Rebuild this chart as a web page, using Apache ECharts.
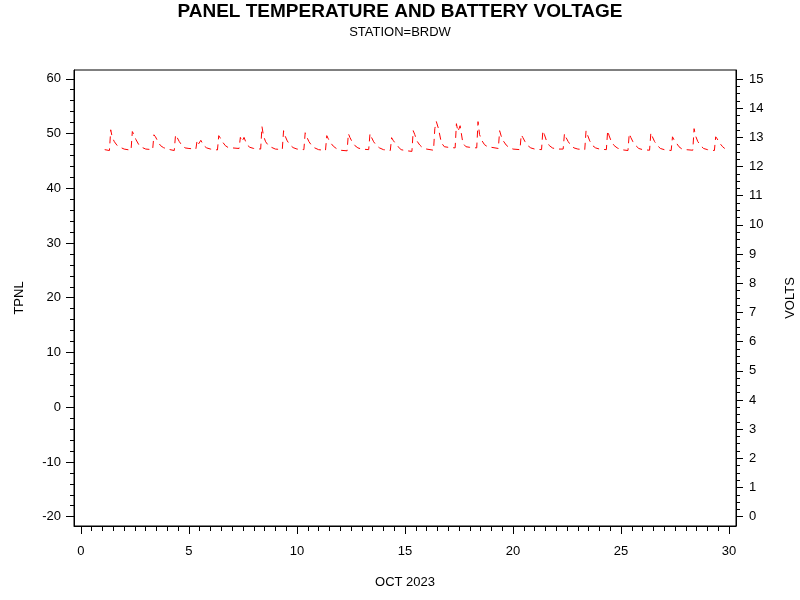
<!DOCTYPE html>
<html>
<head>
    <meta charset="utf-8">
    <title>panel temperature and battery voltage</title>
    <script src="https://cdn.jsdelivr.net/npm/echarts@6/dist/echarts.min.js"></script>
</head>
<body style="margin:0">
    <div id="chart" style="width: 800px;height:600px;"></div>
    <script type="text/javascript">
        // day of month (OCT 2023) and battery voltage
        var days = [
            1.10, 1.32, 1.38, 1.45, 1.55, 1.68, 1.82,
            2.00, 2.32, 2.38, 2.45, 2.55, 2.68, 2.82,
            3.00, 3.32, 3.38, 3.45, 3.55, 3.68, 3.82,
            4.00, 4.32, 4.38, 4.45, 4.55, 4.68, 4.82,
            5.00, 5.32, 5.38, 5.45, 5.55, 5.68, 5.82,
            6.00, 6.32, 6.38, 6.45, 6.55, 6.68, 6.82,
            7.00, 7.32, 7.38, 7.45, 7.55, 7.68, 7.82,
            8.00, 8.32, 8.38, 8.45, 8.55, 8.68, 8.82,
            9.00, 9.32, 9.38, 9.45, 9.55, 9.68, 9.82,
            10.00, 10.32, 10.38, 10.45, 10.55, 10.68, 10.82,
            11.00, 11.32, 11.38, 11.45, 11.55, 11.68, 11.82,
            12.00, 12.32, 12.38, 12.45, 12.55, 12.68, 12.82,
            13.00, 13.32, 13.38, 13.45, 13.55, 13.68, 13.82,
            14.00, 14.32, 14.38, 14.45, 14.55, 14.68, 14.82,
            15.00, 15.32, 15.38, 15.45, 15.55, 15.68, 15.82,
            16.00, 16.32, 16.38, 16.45, 16.55, 16.68, 16.82,
            17.00, 17.32, 17.38, 17.45, 17.55, 17.68, 17.82,
            18.00, 18.32, 18.38, 18.45, 18.55, 18.68, 18.82,
            19.00, 19.32, 19.38, 19.45, 19.55, 19.68, 19.82,
            20.00, 20.32, 20.38, 20.45, 20.55, 20.68, 20.82,
            21.00, 21.32, 21.38, 21.45, 21.55, 21.68, 21.82,
            22.00, 22.32, 22.38, 22.45, 22.55, 22.68, 22.82,
            23.00, 23.32, 23.38, 23.45, 23.55, 23.68, 23.82,
            24.00, 24.32, 24.38, 24.45, 24.55, 24.68, 24.82,
            25.00, 25.32, 25.38, 25.45, 25.55, 25.68, 25.82,
            26.00, 26.32, 26.38, 26.45, 26.55, 26.68, 26.82,
            27.00, 27.32, 27.38, 27.45, 27.55, 27.68, 27.82,
            28.00, 28.32, 28.38, 28.45, 28.55, 28.68, 28.82,
            29.00, 29.32, 29.38, 29.45, 29.55, 29.70, 29.80
        ];
        var volts = [
            12.58, 12.55, 13.26, 13.00, 12.85, 12.72, 12.66,
            12.60, 12.56, 13.20, 13.10, 12.92, 12.75, 12.66,
            12.60, 12.58, 13.09, 13.02, 12.88, 12.72, 12.65,
            12.60, 12.55, 13.09, 13.00, 12.86, 12.72, 12.64,
            12.62, 12.60, 12.90, 12.78, 12.90, 12.72, 12.64,
            12.60, 12.57, 13.06, 12.98, 12.85, 12.72, 12.65,
            12.64, 12.62, 13.00, 12.85, 13.00, 12.75, 12.66,
            12.62, 12.60, 13.37, 13.05, 12.85, 12.72, 12.66,
            12.60, 12.58, 13.23, 13.05, 12.88, 12.74, 12.65,
            12.60, 12.58, 13.16, 13.02, 12.86, 12.72, 12.64,
            12.58, 12.55, 13.06, 12.95, 12.82, 12.70, 12.62,
            12.56, 12.54, 13.13, 13.00, 12.85, 12.72, 12.64,
            12.60, 12.58, 13.13, 13.00, 12.85, 12.72, 12.64,
            12.58, 12.55, 12.99, 12.90, 12.80, 12.68, 12.58,
            12.55, 12.52, 13.23, 13.10, 12.88, 12.74, 12.64,
            12.60, 12.56, 13.30, 13.54, 13.30, 12.82, 12.68,
            12.66, 12.64, 13.47, 13.20, 13.40, 12.80, 12.68,
            12.66, 12.64, 13.54, 13.10, 12.90, 12.75, 12.68,
            12.66, 12.62, 13.23, 13.05, 12.88, 12.74, 12.65,
            12.60, 12.58, 13.09, 13.00, 12.86, 12.72, 12.64,
            12.60, 12.58, 13.23, 13.10, 12.88, 12.72, 12.64,
            12.60, 12.60, 13.13, 13.00, 12.86, 12.72, 12.64,
            12.60, 12.58, 13.23, 13.08, 12.88, 12.72, 12.64,
            12.60, 12.58, 13.23, 13.05, 12.86, 12.72, 12.64,
            12.58, 12.55, 13.13, 13.00, 12.85, 12.72, 12.62,
            12.58, 12.56, 13.16, 13.02, 12.86, 12.72, 12.62,
            12.58, 12.55, 13.02, 12.92, 12.82, 12.68, 12.60,
            12.58, 12.56, 13.30, 13.05, 12.86, 12.72, 12.62,
            12.58, 12.55, 13.02, 12.95, 12.82, 12.68, 12.62
        ];
        var dayTicks = [0, 5, 10, 15, 20, 25, 30];
        var tpnlTicks = [-20, -10, 0, 10, 20, 30, 40, 50, 60];
        var voltTicks = [0, 1, 2, 3, 4, 5, 6, 7, 8, 9, 10, 11, 12, 13, 14, 15];

        // minor tick positions
        var dayMinor = [], tpnlMinor = [], voltMinor = [];
        for (var i = 0; i <= 60; i++) dayMinor.push(i * 0.5);
        for (var i = -10; i <= 30; i++) tpnlMinor.push(i * 2);
        for (var i = 0; i <= 60; i++) voltMinor.push(i * 0.25);

        var font = 'Liberation Sans';
        var points = [];
        for (var i = 0; i < days.length; i++) points.push([days[i], volts[i]]);

        var myChart = echarts.init(document.getElementById('chart'));
        var option = {
            animation: false,
            textStyle: {fontFamily: font},
            title: {
                text: 'PANEL TEMPERATURE AND BATTERY VOLTAGE',
                subtext: 'STATION=BRDW',
                left: 'center',
                top: -3,
                itemGap: 5,
                textStyle: {fontFamily: font, fontSize: 19, fontWeight: 'bold', color: '#000'},
                subtextStyle: {fontFamily: font, fontSize: 13, color: '#000'}
            },
            grid: {
                left: 74, right: 64, top: 70, bottom: 74,
                outerBoundsMode: 'none', containLabel: false,
                show: true, borderColor: '#000', borderWidth: 1
            },
            xAxis: [{
                type: 'value', min: -0.32, max: 30.32,
                name: 'OCT 2023', nameLocation: 'middle', nameGap: 50,
                nameTextStyle: {fontFamily: font, fontSize: 13, color: '#000'},
                axisLine: {onZero: false, lineStyle: {color: '#000'}},
                axisTick: {length: 8, customValues: dayTicks, lineStyle: {color: '#000'}},
                axisLabel: {customValues: dayTicks, margin: 19, fontSize: 13, color: '#000', fontFamily: font},
                splitLine: {show: false}
            }, {
                type: 'value', min: -0.32, max: 30.32, position: 'bottom',
                axisLine: {show: false, onZero: false},
                axisTick: {length: 5, customValues: dayMinor, lineStyle: {color: '#000'}},
                axisLabel: {show: false},
                splitLine: {show: false}
            }],
            yAxis: [{
                type: 'value', min: -21.7, max: 61.6, position: 'left',
                name: 'TPNL', nameLocation: 'middle', nameGap: 48, nameRotate: 90,
                nameTextStyle: {fontFamily: font, fontSize: 13, color: '#000'},
                axisLine: {show: true, onZero: false, lineStyle: {color: '#000'}},
                axisTick: {show: true, length: 8, customValues: tpnlTicks, lineStyle: {color: '#000'}},
                axisLabel: {customValues: tpnlTicks, margin: 13, fontSize: 13, color: '#000', fontFamily: font},
                splitLine: {show: false}
            }, {
                type: 'value', min: -0.32, max: 15.31, position: 'right',
                name: 'VOLTS', nameLocation: 'middle', nameGap: 48, nameRotate: 90,
                nameTextStyle: {fontFamily: font, fontSize: 13, color: '#000'},
                axisLine: {show: true, onZero: false, lineStyle: {color: '#000'}},
                axisTick: {show: true, length: 7, customValues: voltTicks, lineStyle: {color: '#000'}},
                axisLabel: {customValues: voltTicks, margin: 13, fontSize: 13, color: '#000', fontFamily: font},
                splitLine: {show: false}
            }, {
                type: 'value', min: -21.7, max: 61.6, position: 'left',
                axisLine: {show: false, onZero: false},
                axisTick: {show: true, length: 4, customValues: tpnlMinor, lineStyle: {color: '#000'}},
                axisLabel: {show: false},
                splitLine: {show: false}
            }, {
                type: 'value', min: -0.32, max: 15.31, position: 'right',
                axisLine: {show: false, onZero: false},
                axisTick: {show: true, length: 4, customValues: voltMinor, lineStyle: {color: '#000'}},
                axisLabel: {show: false},
                splitLine: {show: false}
            }],
            series: [{
                name: 'VOLTS',
                type: 'line',
                xAxisIndex: 0,
                yAxisIndex: 1,
                showSymbol: false,
                lineStyle: {color: '#ff0000', width: 1, type: [7, 5]},
                data: points
            }]
        };
        myChart.setOption(option);
    </script>
</body>
</html>
